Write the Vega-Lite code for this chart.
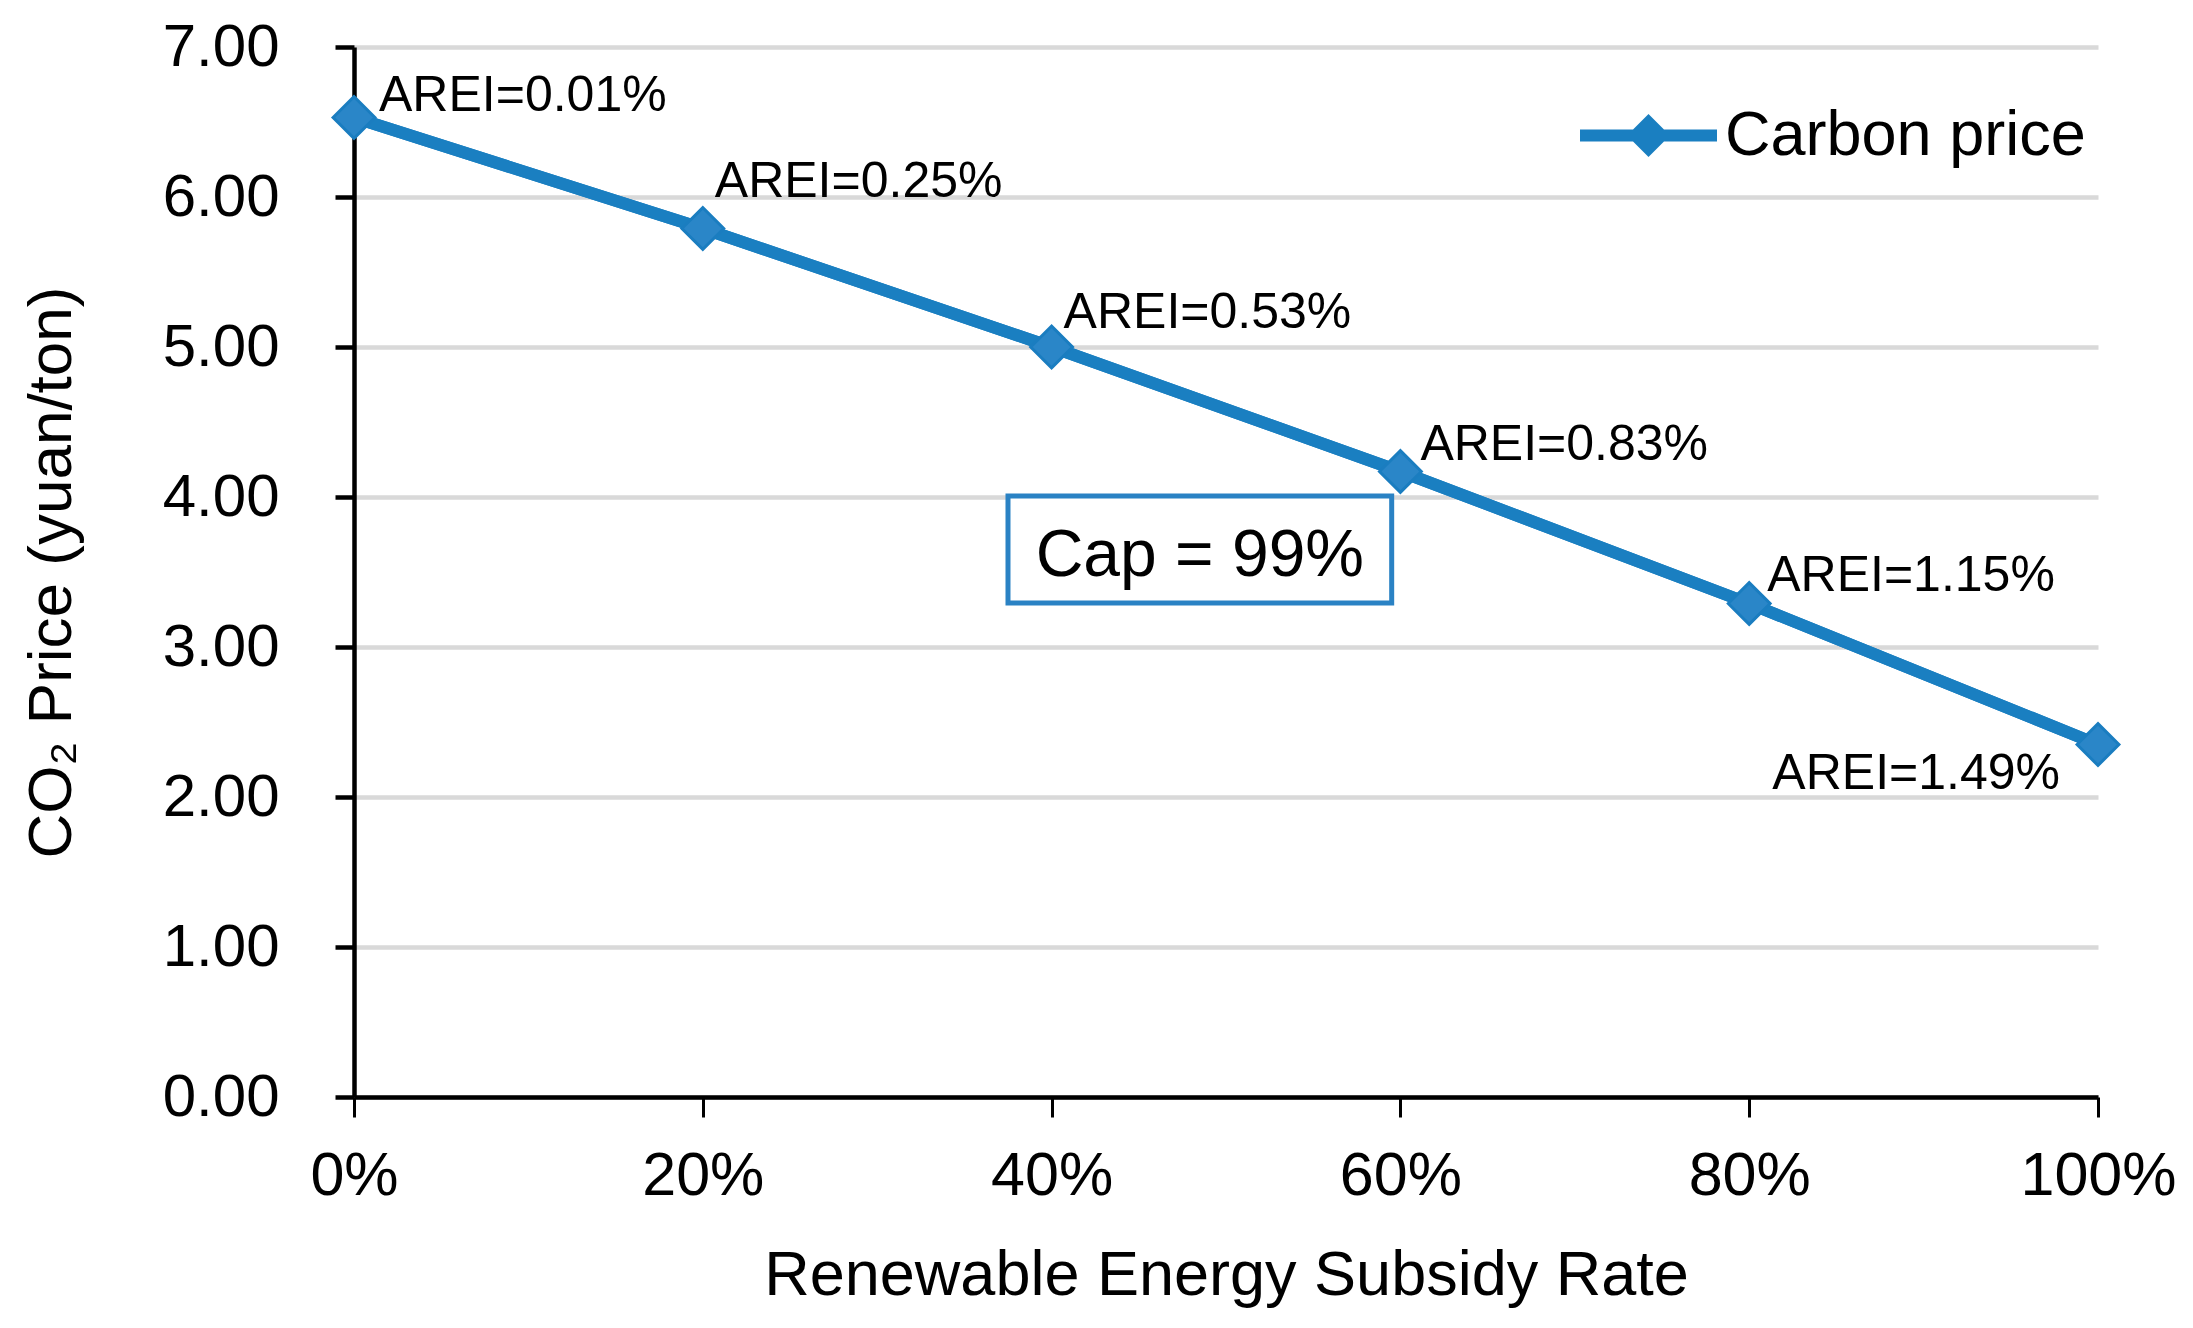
{
  "$schema": "https://vega.github.io/schema/vega-lite/v6.json",
  "width": 1744,
  "height": 1050,
  "autosize": {"type": "none"},
  "padding": {"left": 354, "top": 47, "right": 95, "bottom": 231},
  "background": "white",
  "config": {"font": "Liberation Sans", "view": {"stroke": null}},
  "datasets": {
    "prices": [
      {"rate": 0.0, "price": 6.53, "label": "AREI=0.01%"},
      {"rate": 0.2, "price": 5.79, "label": "AREI=0.25%"},
      {"rate": 0.4, "price": 5.00, "label": "AREI=0.53%"},
      {"rate": 0.6, "price": 4.17, "label": "AREI=0.83%"},
      {"rate": 0.8, "price": 3.29, "label": "AREI=1.15%"},
      {"rate": 1.0, "price": 2.35, "label": "AREI=1.49%"}
    ],
    "note": [{"text": "Cap = 99%"}]
  },
  "layer": [
    {
      "data": {"name": "prices"},
      "mark": {"type": "line", "color": "#1a7fc1", "strokeWidth": 12, "strokeJoin": "round"},
      "encoding": {
        "x": {"field": "rate", "type": "quantitative",
          "scale": {"domain": [0, 1], "nice": false, "zero": false},
          "axis": {"values": [0, 0.2, 0.4, 0.6, 0.8, 1], "format": ".0%", "title": "Renewable Energy Subsidy Rate",
            "grid": false, "tickSize": 20, "tickWidth": 3, "tickColor": "black", "domainColor": "black", "domainWidth": 4.5,
            "labelFontSize": 61, "labelPadding": 29, "labelColor": "black", "labelFlush": false, "labelOverlap": false,
            "titleFontSize": 63, "titleFontWeight": "normal", "titlePadding": 38, "titleColor": "black"}},
        "y": {"field": "price", "type": "quantitative",
          "scale": {"domain": [0, 7], "nice": false},
          "axis": {"values": [0, 1, 2, 3, 4, 5, 6, 7], "format": ".2f", "title": "CO₂ Price (yuan/ton)",
            "grid": true, "gridColor": "#d9d9d9", "gridWidth": 4.5,
            "tickSize": 19, "tickWidth": 4.5, "tickColor": "black", "domainColor": "black", "domainWidth": 4.5,
            "labelFontSize": 60, "labelPadding": 56, "labelColor": "black", "labelFlush": false, "labelOverlap": false,
            "titleFontSize": 62, "titleFontWeight": "normal", "titlePadding": 79, "titleColor": "black"}}
      }
    },
    {
      "data": {"name": "note"},
      "mark": {"type": "rect", "fill": "white", "stroke": "#2a82c4", "strokeWidth": 5},
      "encoding": {
        "x": {"datum": 0.375, "type": "quantitative"},
        "x2": {"datum": 0.595},
        "y": {"datum": 4.007, "type": "quantitative"},
        "y2": {"datum": 3.293}
      }
    },
    {
      "data": {"name": "note"},
      "mark": {"type": "text", "fontSize": 66, "align": "center", "baseline": "alphabetic", "color": "black"},
      "encoding": {
        "x": {"datum": 0.485, "type": "quantitative"},
        "y": {"datum": 3.473, "type": "quantitative"},
        "text": {"field": "text"}
      }
    },
    {
      "data": {"name": "prices"},
      "mark": {"type": "line", "color": "#1a7fc1", "strokeWidth": 12, "strokeJoin": "round"},
      "encoding": {
        "x": {"field": "rate", "type": "quantitative"},
        "y": {"field": "price", "type": "quantitative"}
      }
    },
    {
      "data": {"name": "prices"},
      "mark": {"type": "point", "shape": "diamond", "filled": true, "size": 1750, "opacity": 1, "fill": "#2a86c8", "stroke": "#1a7dc0", "strokeWidth": 3},
      "encoding": {
        "x": {"field": "rate", "type": "quantitative"},
        "y": {"field": "price", "type": "quantitative"},
        "color": {"datum": "Carbon price", "type": "nominal",
          "scale": {"range": ["#1a7fc1"]},
          "legend": {"title": null, "orient": "none", "legendX": 1226, "legendY": 20,
            "symbolType": "M-1,-0.088L-0.226,-0.088L0,-0.314L0.226,-0.088L1,-0.088L1,0.088L0.226,0.088L0,0.314L-0.226,0.088L-1,0.088Z",
            "symbolSize": 18769, "symbolStrokeWidth": 0, "symbolOpacity": 1, "symbolFillColor": "#1a7fc1",
            "labelFontSize": 63, "labelOffset": 8, "labelColor": "black", "labelLimit": 800, "padding": 0}}
      }
    },
    {
      "data": {"name": "prices"},
      "transform": [{"filter": "datum.rate == 0"}],
      "mark": {"type": "text", "fontSize": 50, "align": "left", "baseline": "alphabetic", "dx": 25, "dy": -7, "color": "black"},
      "encoding": {"x": {"field": "rate", "type": "quantitative"}, "y": {"field": "price", "type": "quantitative"}, "text": {"field": "label"}}
    },
    {
      "data": {"name": "prices"},
      "transform": [{"filter": "datum.rate == 0.2"}],
      "mark": {"type": "text", "fontSize": 50, "align": "left", "baseline": "alphabetic", "dx": 12, "dy": -32, "color": "black"},
      "encoding": {"x": {"field": "rate", "type": "quantitative"}, "y": {"field": "price", "type": "quantitative"}, "text": {"field": "label"}}
    },
    {
      "data": {"name": "prices"},
      "transform": [{"filter": "datum.rate == 0.4"}],
      "mark": {"type": "text", "fontSize": 50, "align": "left", "baseline": "alphabetic", "dx": 12, "dy": -19, "color": "black"},
      "encoding": {"x": {"field": "rate", "type": "quantitative"}, "y": {"field": "price", "type": "quantitative"}, "text": {"field": "label"}}
    },
    {
      "data": {"name": "prices"},
      "transform": [{"filter": "datum.rate == 0.6"}],
      "mark": {"type": "text", "fontSize": 50, "align": "left", "baseline": "alphabetic", "dx": 20, "dy": -12, "color": "black"},
      "encoding": {"x": {"field": "rate", "type": "quantitative"}, "y": {"field": "price", "type": "quantitative"}, "text": {"field": "label"}}
    },
    {
      "data": {"name": "prices"},
      "transform": [{"filter": "datum.rate == 0.8"}],
      "mark": {"type": "text", "fontSize": 50, "align": "left", "baseline": "alphabetic", "dx": 18, "dy": -13, "color": "black"},
      "encoding": {"x": {"field": "rate", "type": "quantitative"}, "y": {"field": "price", "type": "quantitative"}, "text": {"field": "label"}}
    },
    {
      "data": {"name": "prices"},
      "transform": [{"filter": "datum.rate == 1"}],
      "mark": {"type": "text", "fontSize": 50, "align": "right", "baseline": "alphabetic", "dx": -38, "dy": 44, "color": "black"},
      "encoding": {"x": {"field": "rate", "type": "quantitative"}, "y": {"field": "price", "type": "quantitative"}, "text": {"field": "label"}}
    }
  ]
}
